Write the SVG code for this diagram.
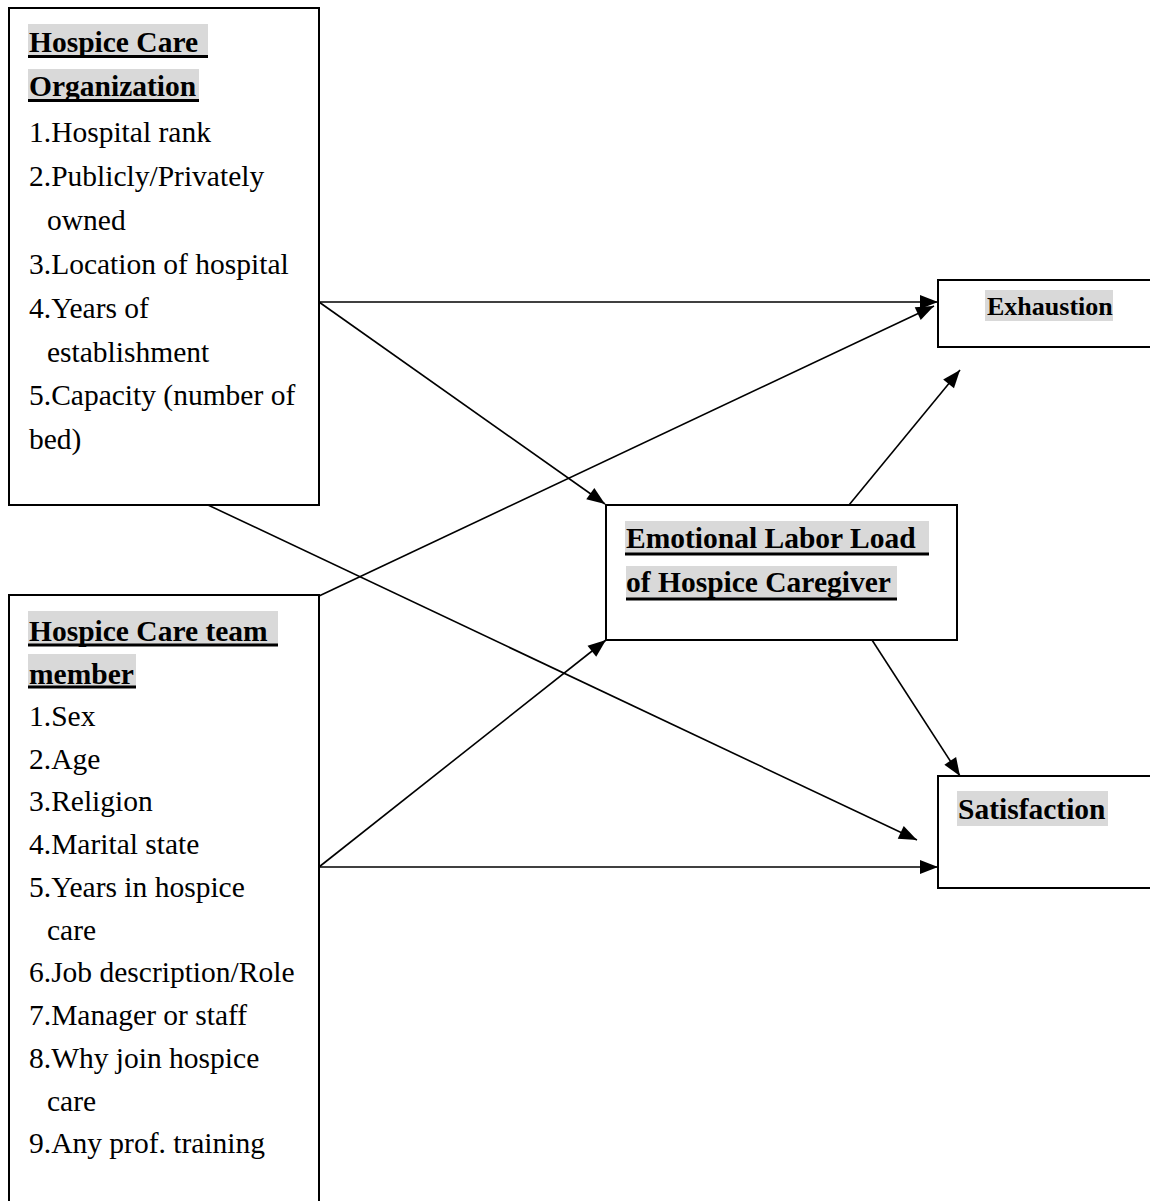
<svg xmlns="http://www.w3.org/2000/svg" width="1150" height="1201" viewBox="0 0 1150 1201">
<style>
.box{fill:#fff;stroke:#000;stroke-width:2}
.t{font-family:"Liberation Serif","Times New Roman",serif;font-size:29.5px;fill:#000}
.b{font-weight:bold}
.hl{fill:#d9d9d9}
.ul{stroke:#000;stroke-width:3}
.c{stroke:#000;stroke-width:1.6;fill:none;marker-end:url(#ah)}
</style>
<defs>
<marker id="ah" markerUnits="userSpaceOnUse" markerWidth="22" markerHeight="18" viewBox="0 0 22 18" refX="20" refY="9" orient="auto">
<path d="M2,2 L20,9 L2,16 Z" fill="#000"/>
</marker>
</defs>
<rect width="1150" height="1201" fill="#fff"/>

<g id="org">
<rect class="box" x="9" y="8" width="310" height="497"/>
<rect class="hl" x="28" y="24" width="180" height="34"/>
<rect class="hl" x="28" y="69" width="171" height="33"/>
<text class="t b" x="29" y="52">Hospice Care </text>
<line class="ul" x1="28" y1="56.5" x2="208" y2="56.5"/>
<text class="t b" x="29" y="96">Organization</text>
<line class="ul" x1="28" y1="100.5" x2="199" y2="100.5"/>
<text class="t" x="29" y="142">1.Hospital rank</text>
<text class="t" x="29" y="186">2.Publicly/Privately</text>
<text class="t" x="47" y="230">owned</text>
<text class="t" x="29" y="274">3.Location of hospital</text>
<text class="t" x="29" y="318">4.Years of</text>
<text class="t" x="47" y="362">establishment</text>
<text class="t" x="29" y="405">5.Capacity (number of</text>
<text class="t" x="29" y="449">bed)</text>
</g>

<g id="team">
<rect class="box" x="9" y="595" width="310" height="620"/>
<rect class="hl" x="28" y="611" width="250" height="33"/>
<rect class="hl" x="28" y="654" width="108" height="33"/>
<text class="t b" x="29" y="641">Hospice Care team </text>
<line class="ul" x1="28" y1="645" x2="278" y2="645"/>
<text class="t b" x="29" y="684">member</text>
<line class="ul" x1="28" y1="687" x2="136" y2="687"/>
<text class="t" x="29" y="726">1.Sex</text>
<text class="t" x="29" y="769">2.Age</text>
<text class="t" x="29" y="811">3.Religion</text>
<text class="t" x="29" y="854">4.Marital state</text>
<text class="t" x="29" y="897">5.Years in hospice</text>
<text class="t" x="47" y="940">care</text>
<text class="t" x="29" y="982">6.Job description/Role</text>
<text class="t" x="29" y="1025">7.Manager or staff</text>
<text class="t" x="29" y="1068">8.Why join hospice</text>
<text class="t" x="47" y="1111">care</text>
<text class="t" x="29" y="1153">9.Any prof. training</text>
</g>

<g id="emotional">
<rect class="box" x="606" y="505" width="351" height="135"/>
<rect class="hl" x="625" y="521" width="304" height="33"/>
<rect class="hl" x="626" y="566" width="271" height="33"/>
<text class="t b" x="626" y="548">Emotional Labor Load </text>
<line class="ul" x1="625" y1="554" x2="929" y2="554"/>
<text class="t b" x="626" y="592">of Hospice Caregiver</text>
<line class="ul" x1="626" y1="599" x2="897" y2="599"/>
</g>

<g id="exhaustion">
<rect class="box" x="938" y="280" width="220" height="67"/>
<rect class="hl" x="985" y="290" width="128" height="31"/>
<text class="t b" x="987" y="315" style="font-size:26px">Exhaustion</text>
</g>

<g id="satisfaction">
<rect class="box" x="938" y="776" width="220" height="112"/>
<rect class="hl" x="957" y="791" width="151" height="35"/>
<text class="t b" x="958" y="819">Satisfaction</text>
</g>

<g id="connectors">
<line class="c" x1="319" y1="302" x2="938" y2="302"/>
<line class="c" x1="319" y1="302" x2="605" y2="504"/>
<line class="c" x1="208" y1="505" x2="917" y2="840"/>
<line class="c" x1="319" y1="596" x2="934" y2="306"/>
<line class="c" x1="849" y1="505" x2="960" y2="370"/>
<line class="c" x1="872" y1="640" x2="960" y2="776"/>
<line class="c" x1="319" y1="867" x2="606" y2="640"/>
<line class="c" x1="319" y1="867" x2="938" y2="867"/>
</g>
</svg>
